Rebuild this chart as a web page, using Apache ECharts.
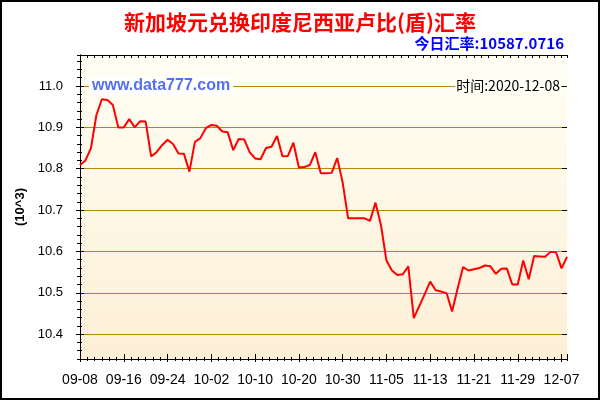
<!DOCTYPE html>
<html>
<head>
<meta charset="utf-8">
<title>新加坡元兑换印度尼西亚卢比(盾)汇率</title>
<script src="https://cdn.jsdelivr.net/npm/echarts@6/dist/echarts.min.js"></script>
<style>
html,body{margin:0;padding:0;background:#fff;}
#chartmain{width:600px;height:400px;}
</style>
</head>
<body>
<div id="chartmain"></div>
<script>
// 日期(每天一个点)
var categories = [
	"09-08","09-09","09-10","09-11","09-12","09-13","09-14","09-15","09-16","09-17",
	"09-18","09-19","09-20","09-21","09-22","09-23","09-24","09-25","09-26","09-27",
	"09-28","09-29","09-30","10-01","10-02","10-05","10-06","10-07","10-08","10-09",
	"10-10","10-11","10-12","10-13","10-14","10-15","10-16","10-17","10-18","10-19",
	"10-20","10-21","10-22","10-23","10-24","10-25","10-26","10-27","10-28","10-29",
	"10-30","10-31","11-01","11-02","11-03","11-04","11-05","11-06","11-07","11-08",
	"11-09","11-10","11-11","11-12","11-13","11-14","11-15","11-16","11-17","11-18",
	"11-19","11-20","11-21","11-22","11-23","11-24","11-25","11-26","11-27","11-28",
	"11-29","11-30","12-01","12-02","12-03","12-04","12-05","12-06","12-07","12-08"
];

// 汇率 (10^3)
var rates = [
	10.809,10.820,10.850,10.930,10.968,10.966,10.954,10.900,10.900,10.920,
	10.900,10.915,10.914,10.830,10.840,10.857,10.870,10.860,10.837,10.836,
	10.793,10.865,10.874,10.898,10.906,10.904,10.890,10.888,10.845,10.872,
	10.871,10.840,10.825,10.823,10.850,10.853,10.879,10.830,10.831,10.863,
	10.803,10.804,10.809,10.840,10.789,10.789,10.790,10.826,10.767,10.680,
	10.680,10.680,10.680,10.674,10.718,10.664,10.578,10.554,10.543,10.545,
	10.564,10.439,10.468,10.497,10.527,10.506,10.503,10.499,10.455,10.510,
	10.562,10.554,10.557,10.560,10.566,10.564,10.546,10.558,10.559,10.520,
	10.520,10.578,10.533,10.589,10.588,10.587,10.599,10.598,10.559,10.587
];

// x轴显示的刻度文字(每8个点一个)
var tickLabels = ["09-08","09-16","09-24","10-02","10-10","10-20","10-30","11-05","11-13","11-21","11-29","12-07"];

var yMin = 10.34, yMax = 11.075;
var lastIdx = categories.length - 1;
var fontEn = "'Liberation Sans', Arial, sans-serif";
var fontCn = "'Noto Sans CJK SC', 'Liberation Sans', sans-serif";

// 只画刻度的辅助轴
function xTicks(pos, interval, inside, len, line) {
	return {
		type: 'value', position: pos, min: 0, max: lastIdx, interval: interval,
		axisLine: {show: !!line, lineStyle: {color: '#000', width: 1}},
		axisTick: {show: true, inside: inside, length: len, lineStyle: {color: '#000', width: 1}},
		axisLabel: {show: false}, splitLine: {show: false}
	};
}
function yTicks(pos, interval, inside, len, line) {
	var a = {
		type: 'value', position: pos, min: yMin, max: yMax,
		axisLine: {show: !!line, lineStyle: {color: '#000', width: 1}},
		axisTick: {show: true, inside: inside, length: len, lineStyle: {color: '#000', width: 1}},
		axisLabel: {show: false}, splitLine: {show: false}
	};
	if (interval) { a.interval = interval; } else { a.splitNumber = 7; }
	return a;
}

var myChart = echarts.init(document.getElementById('chartmain'));

var xAxes = [
	{type: 'category', data: categories, boundaryGap: false, show: false, position: 'bottom'},
	{
		type: 'value', position: 'bottom', min: 0, max: lastIdx, interval: 8,
		axisLine: {show: true, lineStyle: {color: '#000', width: 1}},
		axisTick: {show: true, inside: false, length: 3, lineStyle: {color: '#000'}},
		axisLabel: {
			show: true, margin: 14, color: '#000', fontSize: 14, fontFamily: fontEn,
			showMinLabel: true, showMaxLabel: false,
			formatter: function (v) {
				var k = v / 8;
				return (k === Math.round(k) && tickLabels[k]) ? tickLabels[k] : '';
			}
		},
		splitLine: {show: false}
	},
	xTicks('bottom', 8, true, 5, false),
	xTicks('bottom', 4 / 3, true, 2, false),
	xTicks('bottom', 4 / 3, false, 2, false),
	xTicks('top', 4 / 3, true, 3, true)
];

var yAxes = [
	{
		type: 'value', position: 'left', min: yMin, max: yMax, splitNumber: 7,
		name: '(10^3)', nameLocation: 'middle', nameGap: 53, nameRotate: 90,
		nameTextStyle: {color: '#000', fontSize: 13, fontWeight: 'bold', fontFamily: fontEn},
		axisLine: {show: true, lineStyle: {color: '#000', width: 1}},
		axisTick: {show: true, inside: false, length: 4, lineStyle: {color: '#000'}},
		axisLabel: {
			show: true, margin: 17, color: '#000', fontSize: 13, fontFamily: fontEn,
			showMinLabel: false, showMaxLabel: false,
			formatter: function (v) { return v.toFixed(1); }
		},
		splitLine: {show: true, showMinLine: false, showMaxLine: false, lineStyle: {color: '#B8860B', width: 1}}
	},
	yTicks('left', null, true, 4, false),
	yTicks('left', 0.02, false, 2, false),
	yTicks('left', 0.02, true, 2, false),
	yTicks('right', 0.02, true, 3, true),
	yTicks('right', null, true, 5, false)
];

var option = {
	animation: false,
	backgroundColor: '#fff',
	title: [
		{
			text: '新加坡元兑换印度尼西亚卢比(盾)汇率', left: 'center', top: 12, padding: 0,
			textStyle: {color: '#FF0000', fontSize: 21, fontWeight: 'bold', fontFamily: fontCn}
		},
		{
			text: '今日汇率:10587.0716', right: 36, top: 36, padding: 0,
			textStyle: {color: '#0000FF', fontSize: 15, fontWeight: 'bold', fontFamily: fontCn}
		}
	],
	grid: {
		left: 80, right: 33, top: 55, bottom: 41, show: true, borderWidth: 0,
		outerBoundsMode: 'none',
		backgroundColor: {
			type: 'linear', x: 0, y: 0, x2: 0, y2: 1,
			colorStops: [{offset: 0, color: '#FFFFF5'}, {offset: 1, color: '#FDEFD6'}]
		}
	},
	xAxis: xAxes,
	yAxis: yAxes,
	graphic: [
		{
			type: 'rect', z: 100, silent: true,
			shape: {x: 1, y: 1, width: 598, height: 398},
			style: {fill: 'none', stroke: '#000', lineWidth: 2}
		},
		{
			type: 'text', z: 50, silent: true,
			style: {
				text: 'www.data777.com', x: 89, y: 86, verticalAlign: 'middle',
				fill: '#5470F0', font: 'bold 16px ' + fontEn,
				backgroundColor: '#FFFFFF', padding: [1, 3]
			}
		},
		{
			type: 'text', z: 50, silent: true,
			style: {
				text: '时间:2020-12-08', x: 561, y: 86, align: 'right', verticalAlign: 'middle',
				fill: '#000', font: '14px ' + fontCn,
				backgroundColor: '#FFFFF5', padding: [1, 1]
			}
		}
	],
	series: [{
		name: '汇率',
		type: 'line',
		xAxisIndex: 0,
		yAxisIndex: 0,
		data: rates,
		showSymbol: false,
		symbol: 'none',
		lineStyle: {color: '#FF0000', width: 2},
		itemStyle: {color: '#FF0000'}
	}]
};

myChart.setOption(option);
</script>
</body>
</html>
